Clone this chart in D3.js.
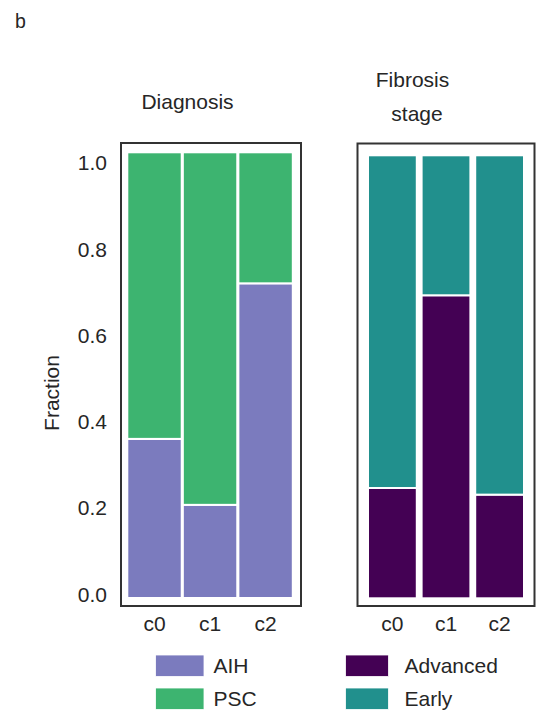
<!DOCTYPE html>
<html>
<head>
<meta charset="utf-8">
<script src="https://cdn.jsdelivr.net/npm/d3@7"></script>
<style>
  html, body { margin: 0; padding: 0; background: #fff; }
  text { font-family: "Liberation Sans", Arial, sans-serif; fill: #262626; }
</style>
</head>
<body>
<svg id="chart" width="540" height="719"></svg>
<script>
// ---- data ----
const categories = ["c0", "c1", "c2"];
const diagnosisKeys = ["AIH", "PSC"];
const aihFraction = [0.357, 0.209, 0.706];
const pscFraction = [0.643, 0.791, 0.294];
const fibrosisKeys = ["Advanced", "Early"];
const advancedFraction = [0.249, 0.684, 0.234];
const earlyFraction = [0.751, 0.316, 0.766];
const yTickValues = [0.0, 0.2, 0.4, 0.6, 0.8, 1.0];
const diagnosisColors = ["#7b7bbe", "#3db470"];
const fibrosisColors = ["#440154", "#21908d"];

const svg = d3.select("#chart");
const FONT = 21;

svg.append("text").attr("x", 15).attr("y", 28)
  .style("font-size", "19.5px").text("b");

function panel(opts) {
  const rows = categories.map((c, i) => {
    const r = { cat: c };
    opts.keys.forEach((k, j) => r[k] = opts.values[j][i]);
    return r;
  });
  const stack = d3.stack().keys(opts.keys)(rows);
  const x = d3.scaleBand().domain(categories).range(opts.xRange).paddingInner(opts.pad).paddingOuter(0);
  const y = d3.scaleLinear().domain([0, 1]).range(opts.yRange);
  const color = d3.scaleOrdinal().domain(opts.keys).range(opts.colors);

  const g = svg.append("g");
  g.selectAll("g.layer").data(stack).join("g")
    .attr("fill", d => color(d.key))
    .selectAll("rect").data(d => d).join("rect")
    .attr("x", d => x(d.data.cat))
    .attr("width", x.bandwidth())
    .attr("y", d => y(d[1]))
    .attr("height", d => y(d[0]) - y(d[1]))
    .attr("stroke", "#ffffff")
    .attr("stroke-width", 2);

  // frame
  g.append("rect").attr("x", opts.frame[0]).attr("y", opts.frame[1])
    .attr("width", opts.frame[2]).attr("height", opts.frame[3])
    .attr("fill", "none").attr("stroke", "#333").attr("stroke-width", 2);

  // x tick labels
  g.selectAll("text.xt").data(categories).join("text")
    .attr("class", "xt")
    .attr("x", d => x(d) + x.bandwidth() / 2)
    .attr("y", 631)
    .attr("text-anchor", "middle")
    .style("font-size", FONT + "px")
    .text(d => d);

  // title lines
  opts.title.forEach(t => {
    g.append("text").attr("x", t[1]).attr("y", t[2])
      .attr("text-anchor", "middle").style("font-size", FONT + "px").text(t[0]);
  });

  // legend
  opts.keys.forEach((k, j) => {
    const ly = opts.legend.y0 + j * opts.legend.dy;
    g.append("rect").attr("x", opts.legend.x).attr("y", ly)
      .attr("width", opts.legend.w).attr("height", 21.5)
      .attr("fill", color(k)).attr("stroke", "#ffffff").attr("stroke-width", 0.8);
    g.append("text").attr("x", opts.legend.tx).attr("y", ly + 17.8)
      .style("font-size", FONT + "px").text(k);
  });
}

panel({
  keys: diagnosisKeys,
  values: [aihFraction, pscFraction],
  colors: diagnosisColors,
  xRange: [127.3, 292.8],
  pad: 0.02,
  yRange: [598, 152.3],
  frame: [121, 143, 180, 463],
  title: [["Diagnosis", 187.5, 108.5]],
  legend: { x: 155.5, w: 48.5, y0: 655, dy: 33, tx: 213.5 }
});

panel({
  keys: fibrosisKeys,
  values: [advancedFraction, earlyFraction],
  colors: fibrosisColors,
  xRange: [368, 524],
  pad: 0.09,
  yRange: [598.3, 155.3],
  frame: [357.5, 143.5, 177, 462.5],
  title: [["Fibrosis", 412.5, 86.5], ["stage", 417, 121]],
  legend: { x: 345.5, w: 43, y0: 655, dy: 33, tx: 404.5 }
});

// y axis (left panel)
const yTick = d3.scaleLinear().domain([0, 1]).range([594.5, 163]);
const axis = d3.axisLeft(yTick).tickValues(yTickValues).tickSize(0).tickPadding(14)
  .tickFormat(d3.format(".1f"));
const ag = svg.append("g").attr("transform", "translate(121,0)").call(axis);
ag.select(".domain").remove();
ag.selectAll("text").style("font-size", FONT + "px")
  .style("font-family", '"Liberation Sans", Arial, sans-serif').attr("fill", "#262626");

svg.append("text")
  .attr("transform", "translate(51.5,393) rotate(-90)")
  .attr("text-anchor", "middle").attr("dominant-baseline", "central")
  .style("font-size", FONT + "px").text("Fraction");
</script>
</body>
</html>
